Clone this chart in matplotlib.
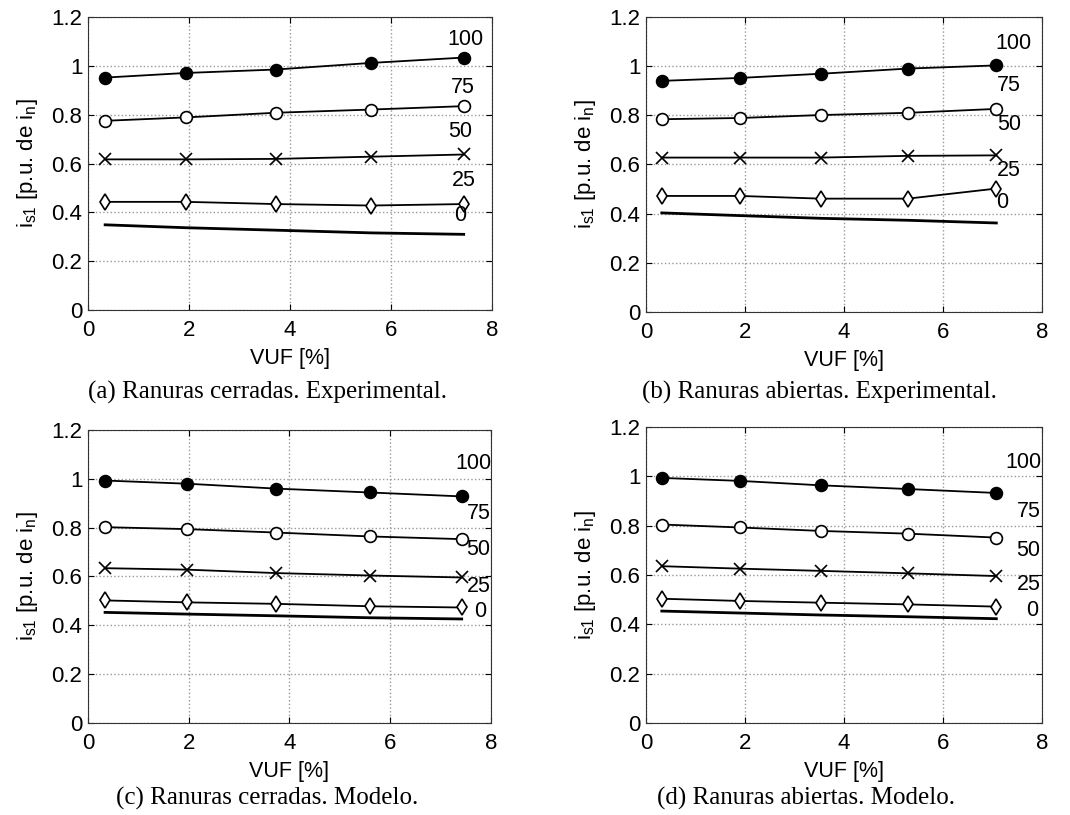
import matplotlib.pyplot as plt

plt.rcParams['font.family'] = ['Liberation Sans', 'DejaVu Sans']
plt.rcParams['mathtext.fontset'] = 'custom'
plt.rcParams['mathtext.rm'] = 'Liberation Sans'
plt.rcParams['mathtext.it'] = 'Liberation Sans'

cargas = ['100', '75', '50', '25', '0']
marcadores = ['o', 'o', 'x', 'd', '']
rellenos = ['black', 'white', 'black', 'white', 'black']

# (a) ranuras cerradas, experimental
vuf_a = [0.34, 1.95, 3.72, 5.6, 7.44]
is1_a = [
    [0.952, 0.971, 0.985, 1.012, 1.034],
    [0.775, 0.789, 0.808, 0.821, 0.835],
    [0.617, 0.617, 0.619, 0.628, 0.637],
    [0.443, 0.443, 0.434, 0.428, 0.434],
    [0.349, 0.337, 0.327, 0.316, 0.310],
]
etiq_a = [(7.47, 1.11), (7.42, 0.911), (7.37, 0.73), (7.44, 0.532), (7.37, 0.389)]

# (b) ranuras abiertas, experimental
vuf_b = [0.32, 1.9, 3.53, 5.29, 7.08]
is1_b = [
    [0.940, 0.952, 0.969, 0.990, 1.003],
    [0.784, 0.789, 0.801, 0.810, 0.826],
    [0.628, 0.628, 0.628, 0.635, 0.637],
    [0.472, 0.472, 0.461, 0.461, 0.502],
    [0.403, 0.392, 0.381, 0.373, 0.362],
]
etiq_b = [(7.43, 1.09), (7.33, 0.922), (7.33, 0.763), (7.33, 0.576), (7.19, 0.447)]

# (c) ranuras cerradas, modelo
vuf_c = [0.34, 1.97, 3.73, 5.6, 7.42]
is1_c = [
    [0.993, 0.980, 0.960, 0.944, 0.928],
    [0.802, 0.794, 0.780, 0.764, 0.753],
    [0.634, 0.628, 0.614, 0.604, 0.596],
    [0.502, 0.494, 0.488, 0.478, 0.473],
    [0.453, 0.446, 0.439, 0.431, 0.426],
]
etiq_c = [(7.65, 1.064), (7.75, 0.859), (7.75, 0.709), (7.75, 0.559), (7.79, 0.457)]

# (d) ranuras abiertas, modelo
vuf_d = [0.32, 1.9, 3.53, 5.29, 7.08]
is1_d = [
    [0.994, 0.982, 0.964, 0.949, 0.933],
    [0.805, 0.793, 0.779, 0.768, 0.752],
    [0.636, 0.626, 0.617, 0.607, 0.596],
    [0.504, 0.495, 0.488, 0.481, 0.472],
    [0.454, 0.446, 0.438, 0.431, 0.423],
]
etiq_d = [(7.63, 1.058), (7.73, 0.856), (7.73, 0.70), (7.73, 0.56), (7.8, 0.458)]

titulos = ['(a) Ranuras cerradas. Experimental.',
           '(b) Ranuras abiertas. Experimental.',
           '(c) Ranuras cerradas. Modelo.',
           '(d) Ranuras abiertas. Modelo.']

fig = plt.figure(figsize=(10.7, 8.15), dpi=100)
posiciones = [
    [0.0822, 0.6196, 0.3776, 0.3595],
    [0.6037, 0.6172, 0.3700, 0.3620],
    [0.0822, 0.1129, 0.3766, 0.3595],
    [0.6037, 0.1129, 0.3700, 0.3630],
]
pies = [(0.250, 392), (0.766, 392), (0.250, 798), (0.753, 798)]

datos = [(vuf_a, is1_a, etiq_a), (vuf_b, is1_b, etiq_b),
         (vuf_c, is1_c, etiq_c), (vuf_d, is1_d, etiq_d)]

for k in range(4):
    ax = fig.add_axes(posiciones[k])
    vuf, is1, etiq = datos[k]
    for i in range(5):
        lw = 2.0 if i == 4 else 1.3
        ax.plot(vuf, is1[i], color='black', lw=lw,
                marker=marcadores[i] if marcadores[i] else None,
                ms=8.5, mfc=rellenos[i], mec='black', mew=1.2)
        ax.text(etiq[i][0], etiq[i][1], cargas[i], fontsize=15.5,
                ha='center', va='center', clip_on=False)
    ax.set_xlim(0, 8)
    ax.set_ylim(0, 1.2)
    ax.set_xticks([0, 2, 4, 6, 8])
    ax.set_yticks([0, 0.2, 0.4, 0.6, 0.8, 1, 1.2])
    ax.set_yticklabels(['0', '0.2', '0.4', '0.6', '0.8', '1', '1.2'])
    ax.grid(True, color='#999999', linestyle=':', lw=1.0)
    ax.tick_params(direction='in', top=True, right=True, labelsize=16, length=4)
    ax.tick_params(axis='x', pad=7)
    ax.tick_params(axis='y', pad=4)
    for s in ax.spines.values():
        s.set_color('#333333')
    ax.set_xlabel('VUF [%]', fontsize=15.5, labelpad=5)
    ax.set_ylabel(r'$\mathregular{i_{s1}}$ [p.u. de $\mathregular{i_n}$]', fontsize=16, labelpad=8)
    fig.text(pies[k][0], 1 - pies[k][1] / 815, titulos[k], ha='center', va='center',
             fontsize=18, family='Liberation Serif')

fig.savefig('out.png', dpi=100)
